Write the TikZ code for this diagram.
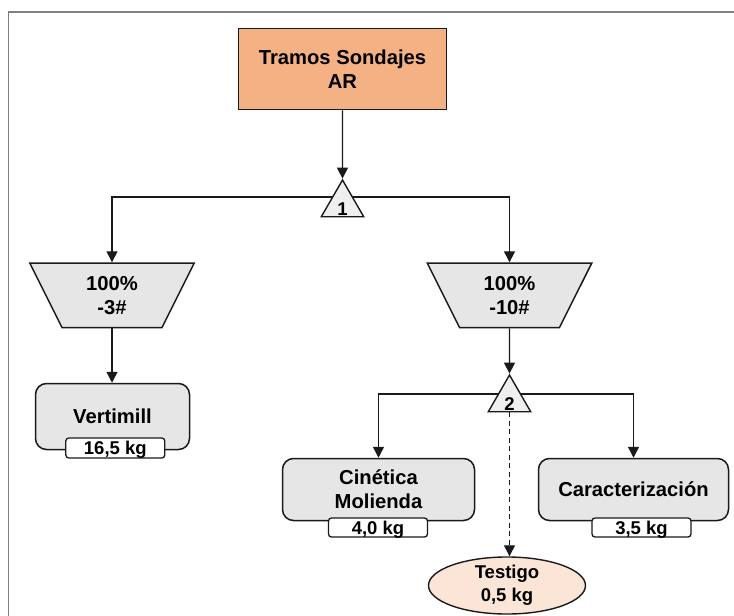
\documentclass[tikz,border=0pt]{standalone}
\usepackage{fontspec}
\setmainfont{Liberation Sans}
\usetikzlibrary{shapes.geometric,arrows.meta,backgrounds}
\definecolor{srcfill}{HTML}{F4B183}
\definecolor{stagefill}{HTML}{E6E6E6}
\definecolor{splitfill}{HTML}{EFEFEF}
\definecolor{samplefill}{HTML}{FBE5D6}
\definecolor{edge}{HTML}{1A1A1A}
\definecolor{framegrey}{HTML}{808080}
% fixed-size body for the sieve trapezia (its bottom edge is the body width)
\newcommand\sievebody[1]{\parbox[c][64.5pt][c]{100pt}{\centering #1}}
% splitter number, set just above the triangle's base
\newcommand\splitno[1]{\raisebox{-10.5pt}[0pt][0pt]{#1}}
\begin{document}
\begin{tikzpicture}[x=1pt,y=-1pt,
  mainfont/.style={font=\bfseries\fontsize{20.2}{24}\selectfont},
  smallfont/.style={font=\bfseries\fontsize{18.5}{23}\selectfont},
  srcbox/.style={draw=edge, line width=1.5pt, fill=srcfill, align=center, mainfont,
    minimum width=208pt, minimum height=81pt, inner sep=0pt},
  splitter/.style={regular polygon, regular polygon sides=3, draw=edge, line width=1.4pt,
    fill=splitfill, minimum size=49pt, inner sep=0pt, smallfont},
  screen/.style={trapezium, trapezium left angle=116.57, trapezium right angle=116.57,
    draw=edge, line width=1.5pt, fill=stagefill, inner sep=0pt, mainfont},
  stage/.style={draw=edge, line width=1.5pt, fill=stagefill, rounded corners=11pt,
    align=center, inner sep=0pt, mainfont},
  qty/.style={draw=edge, line width=1.3pt, fill=white, rounded corners=3pt, inner sep=0pt,
    minimum width=99pt, minimum height=19pt, text height=13pt, text depth=0pt, smallfont},
  sample/.style={ellipse, draw=edge, line width=1.4pt, fill=samplefill, inner sep=0pt,
    minimum width=157pt, minimum height=48pt, align=center, smallfont},
  flow/.style={draw=edge, line width=1.4pt, -{Triangle[length=11pt,width=11pt]}}
]
\useasboundingbox (0,0) rectangle (734,616);

% page frame
\draw[framegrey, line width=1.8pt] (8.5,616) -- (8.5,12) -- (734,12);

% blocks
\node[srcbox] (src) at (342.5,69) {Tramos Sondajes\\AR};
\node[splitter] (t1) at (342.5,204.5) {\splitno{1}};
\node[screen] (sL) at (112,295.3) {\sievebody{100\%\\-3\#}};
\node[screen] (sR) at (509.5,295.3) {\sievebody{100\%\\-10\#}};
\node[stage, minimum width=154pt, minimum height=66pt] (vert) at (112.5,416.5) {Vertimill};
\node[qty, minimum height=20pt] (qv) at (115.3,448) {16,5 kg};
\node[splitter] (t2) at (509.5,399.5) {\splitno{2}};
\node[stage, minimum width=192pt, minimum height=62pt] (cin) at (378.5,489.5) {Cinética\\Molienda};
\node[qty] (qc) at (378,527.5) {4,0 kg};
\node[stage, minimum width=190pt, minimum height=62pt] (car) at (633.5,489.5) {Caracterización};
\node[qty] (qk) at (641.5,527.5) {3,5 kg};
\node[sample] (tes) at (507,585.5) {Testigo\\0,5 kg};

% branch points behind the splitters
\coordinate (j1) at (342.5,197);
\coordinate (j2) at (509.5,394);

% connectors
\draw[flow] (src.south) -- (t1.north);
\draw[flow] (sL.south) -- (sL.south |- vert.north);
\draw[flow] (sR.south) -- (t2.north);
\draw[flow, dash pattern=on 5pt off 3.5pt] (t2.south) -- (t2.south |- tes.north);
\begin{scope}[on background layer]
  \draw[flow] (j1) -| (sL.north);
  \draw[flow] (j1) -| (sR.north);
  \draw[flow] (j2) -| (cin.north);
  \draw[flow] (j2) -| (car.north);
\end{scope}
\end{tikzpicture}
\end{document}
